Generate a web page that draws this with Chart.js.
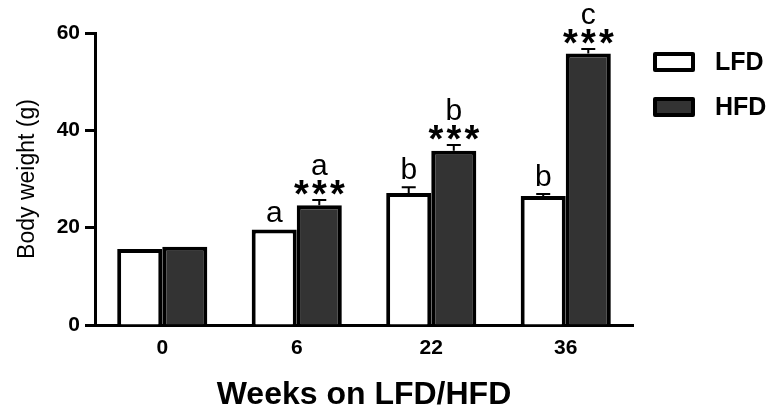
<!DOCTYPE html>
<html>
<head>
<meta charset="utf-8">
<script src="https://cdn.jsdelivr.net/npm/chart.js@4/dist/chart.umd.min.js"></script>
<style>
  html, body { margin: 0; padding: 0; background: #fff; }
  #wrap { width: 778px; height: 416px; }
</style>
</head>
<body>
<div id="wrap"><canvas id="chartWeight" width="778" height="416"></canvas></div>
<script>
// data
const weeks = ['0', '6', '22', '36'];
const lfdWeight = [15.6, 19.6, 27.1, 26.5];
const hfdWeight = [16.1, 24.6, 35.8, 55.8];
const lfdErr = [0, 0, 1.2, 0.4];
const hfdErr = [0, 1.1, 1.2, 0.9];
const lfdLetters = ['', 'a', 'b', 'b'];
const hfdLetters = ['', 'a', 'b', 'c'];
const hfdStars = ['', '***', '***', '***'];
const yTicks = [0, 20, 40, 60];

const FONT = "'Liberation Sans', Arial, sans-serif";

// error bars + letters / stars above bars
const annotPlugin = {
    id: 'annot',
    afterDatasetsDraw: (chart) => {
        const ctx = chart.ctx;
        const yScale = chart.scales.y;
        chart.data.datasets.forEach((ds, di) => {
            const meta = chart.getDatasetMeta(di);
            meta.data.forEach((bar, i) => {
                const err = ds.errors[i];
                const errTop = yScale.getPixelForValue(ds.data[i] + err);
                ctx.save();
                if (err > 0) {
                    ctx.strokeStyle = '#000';
                    ctx.lineWidth = 2;
                    ctx.beginPath();
                    ctx.moveTo(bar.x, bar.y);
                    ctx.lineTo(bar.x, errTop);
                    ctx.moveTo(bar.x - 7, errTop);
                    ctx.lineTo(bar.x + 7, errTop);
                    ctx.stroke();
                }

                ctx.fillStyle = '#000';
                ctx.textAlign = 'center';
                ctx.textBaseline = 'alphabetic';
                const stars = ds.stars ? ds.stars[i] : '';
                if (stars) {
                    ctx.font = 'bold 38px ' + FONT;
                    const base = errTop - 15 + 0.57 * 38;
                    const n = stars.length;
                    for (let k = 0; k < n; k++) {
                        ctx.fillText(stars[k], bar.x + (k - (n - 1) / 2) * 18, base);
                    }
                }
                const letter = ds.letters[i];
                if (letter) {
                    ctx.font = '30px ' + FONT;
                    ctx.fillText(letter, bar.x, stars ? errTop - 25 : errTop - 8);
                }
                ctx.restore();
            });
        });
    }
};

// legend to the right of the plot
const legendPlugin = {
    id: 'sideLegend',
    afterDraw: (chart) => {
        const ctx = chart.ctx;
        chart.data.datasets.forEach((ds, di) => {
            const top = 54 + di * 45;
            ctx.save();
            ctx.fillStyle = ds.backgroundColor;
            ctx.strokeStyle = '#000';
            ctx.lineWidth = 4;
            ctx.lineJoin = 'round';
            ctx.fillRect(655, top, 38, 16);
            ctx.strokeRect(655, top, 38, 16);
            ctx.fillStyle = '#000';
            ctx.font = 'bold 25px ' + FONT;
            ctx.textAlign = 'left';
            ctx.textBaseline = 'middle';
            ctx.fillText(ds.label, 715, top + 9);
            ctx.restore();
        });
    }
};

new Chart(document.getElementById('chartWeight'), {
    type: 'bar',
    data: {
        labels: weeks,
        datasets: [
            {
                label: 'LFD',
                data: lfdWeight,
                errors: lfdErr,
                letters: lfdLetters,
                backgroundColor: '#ffffff',
                borderColor: '#000000',
                borderWidth: 4
            },
            {
                label: 'HFD',
                data: hfdWeight,
                errors: hfdErr,
                letters: hfdLetters,
                stars: hfdStars,
                backgroundColor: '#333333',
                borderColor: '#000000',
                borderWidth: 4
            }
        ]
    },
    options: {
        responsive: false,
        animation: false,
        categoryPercentage: 0.67,
        barPercentage: 1.0,
        layout: { padding: { top: 33, right: 145, left: 0, bottom: 0 } },
        plugins: {
            legend: { display: false },
            tooltip: { enabled: false }
        },
        scales: {
            x: {
                grid: { display: false, drawTicks: false },
                border: { display: true, color: '#000', width: 3 },
                ticks: { color: '#000', padding: 11, font: { family: FONT, size: 21, weight: 'bold' } },
                title: {
                    display: true,
                    text: 'Weeks on LFD/HFD',
                    color: '#000',
                    font: { family: FONT, size: 32, weight: 'bold', lineHeight: 1.2 },
                    padding: { top: 0, bottom: 2 }
                },
                afterFit: (scale) => { scale.height = 91; }
            },
            y: {
                min: 0,
                max: 60,
                afterBuildTicks: (scale) => { scale.ticks = yTicks.map(v => ({ value: v })); },
                grid: { drawOnChartArea: false, drawTicks: true, tickLength: 10, tickWidth: 3, tickColor: '#000' },
                border: { display: true, color: '#000', width: 3 },
                ticks: { color: '#000', padding: 5, font: { family: FONT, size: 21, weight: 'bold' } },
                title: {
                    display: true,
                    text: 'Body weight (g)',
                    color: '#000',
                    font: { family: FONT, size: 23, lineHeight: 1.2 },
                    padding: { top: 14, bottom: 0 }
                },
                afterFit: (scale) => { scale.width = 95; }
            }
        }
    },
    plugins: [annotPlugin, legendPlugin]
});
</script>
</body>
</html>
